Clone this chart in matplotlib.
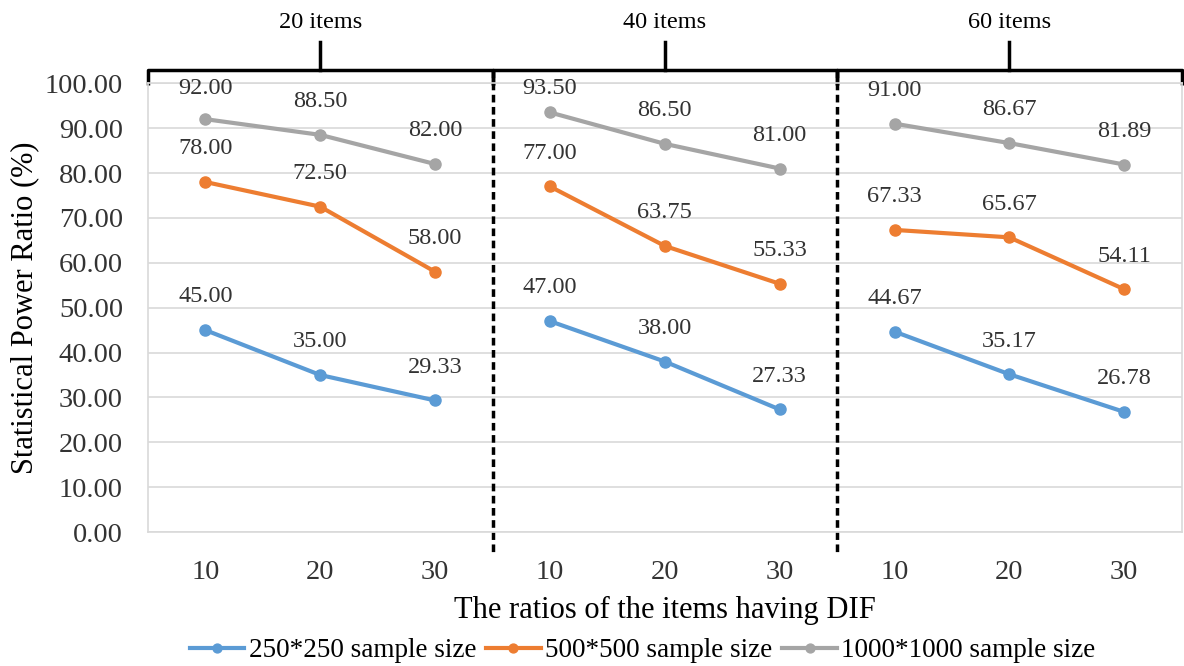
import matplotlib
matplotlib.use("Agg")
import matplotlib.pyplot as plt

# ── data ──────────────────────────────────────────────────────────────────────
groups = ["20 items", "40 items", "60 items"]
ratios = ["10", "20", "30"]
s250 = [45.00, 35.00, 29.33, 47.00, 38.00, 27.33, 44.67, 35.17, 26.78]
s500 = [78.00, 72.50, 58.00, 77.00, 63.75, 55.33, 67.33, 65.67, 54.11]
s1000 = [92.00, 88.50, 82.00, 93.50, 86.50, 81.00, 91.00, 86.67, 81.89]
series = [
    ("250*250 sample size", s250, "#5B9BD5"),
    ("500*500 sample size", s500, "#ED7D31"),
    ("1000*1000 sample size", s1000, "#A5A5A5"),
]

plt.rcParams["font.family"] = ["Liberation Serif", "DejaVu Serif"]

fig = plt.figure(figsize=(11.84, 6.66), dpi=100)
ax = fig.add_axes([0.125, 0.201, 0.873, 0.674])

n = len(ratios)
for label, vals, color in series:
    for g in range(len(groups)):
        xs = list(range(g * n, g * n + n))
        ys = vals[g * n:g * n + n]
        ax.plot(xs, ys, color=color, lw=3, marker="o", ms=8,
                label=label if g == 0 else None, zorder=3)
        for x, y in zip(xs, ys):
            # labels sit above the point, but stay inside the plot area (like Excel)
            ly = min(y + 7.4, 98.8)
            ax.text(x, ly, f"{y:.2f}", ha="center", va="center",
                    fontsize=17.5, color="#333333")

ax.set_xlim(-0.5, len(groups) * n - 0.5)
ax.set_ylim(0, 100)
ax.set_yticks(range(0, 101, 10))
ax.set_yticklabels([f"{v:.2f}" for v in range(0, 101, 10)])
ax.set_xticks(range(len(groups) * n))
ax.set_xticklabels(ratios * len(groups))
ax.tick_params(length=0, labelsize=20.5, colors="#333333")
ax.tick_params(axis="x", pad=20)
ax.tick_params(axis="y", pad=18)
ax.grid(axis="y", color="#D9D9D9", lw=1.2)
ax.set_axisbelow(True)
for sp in ax.spines.values():
    sp.set_color("#D9D9D9")
    sp.set_linewidth(1.2)

ax.set_ylabel("Statistical Power Ratio (%)", fontsize=22, labelpad=4)
ax.set_xlabel("The ratios of the items having DIF", fontsize=22, labelpad=8)

# group brackets and dashed separators
tr = ax.get_xaxis_transform()
for g, name in enumerate(groups):
    x0, x1 = g * n - 0.5, g * n + n - 0.5
    xc = (x0 + x1) / 2
    ax.plot([x0, x0, x1, x1], [0.995, 1.029, 1.029, 0.995], transform=tr,
            color="black", lw=2.5, clip_on=False, solid_capstyle="butt")
    ax.plot([xc, xc], [1.029, 1.091], transform=tr, color="black", lw=2.5,
            clip_on=False)
    ax.text(xc, 1.136, name, transform=tr, ha="center", va="center", fontsize=17.5)
    if g > 0:
        ax.plot([x0, x0], [1.029, -0.045], transform=tr, color="black", lw=2.5,
                ls=(0, (2.2, 1.3)), clip_on=False)

fig.legend(loc="lower center", bbox_to_anchor=(0.543, -0.02), ncol=3, frameon=False,
           fontsize=19.5, handlelength=2.0, handletextpad=0.18, columnspacing=0.36,
           borderaxespad=0.2, markerscale=0.8)

fig.savefig("out.png", dpi=100)
